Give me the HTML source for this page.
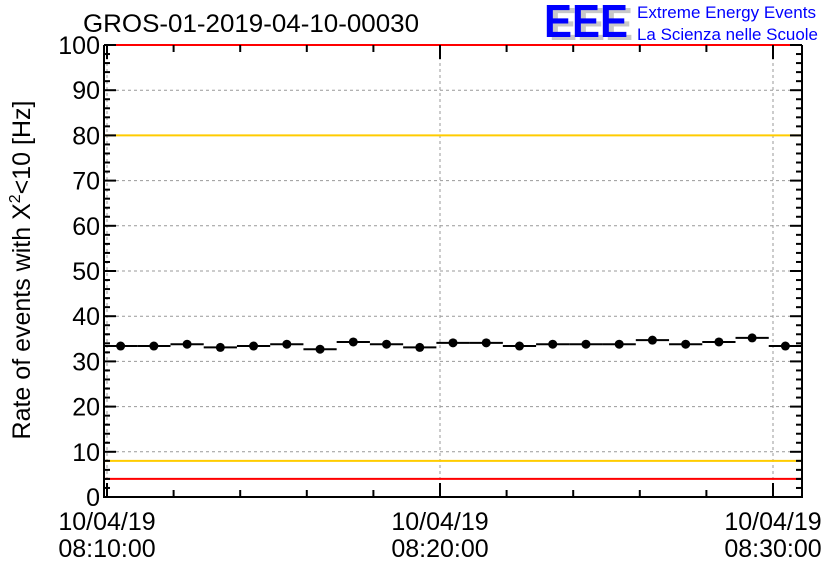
<!DOCTYPE html>
<html><head><meta charset="utf-8">
<style>
body{margin:0;background:#fff;}
svg{display:block;font-family:"Liberation Sans",Arial,sans-serif;}
</style></head>
<body>
<svg id="chart" width="836" height="572" viewBox="0 0 836 572" xmlns="http://www.w3.org/2000/svg">
<rect width="836" height="572" fill="#fff"/>
<text x="83" y="32" font-size="25" fill="#000" textLength="336" lengthAdjust="spacingAndGlyphs">GROS-01-2019-04-10-00030</text>
<g>
<text x="549" y="40" font-size="46" fill="#c8c8c8" font-weight="bold" textLength="84" lengthAdjust="spacingAndGlyphs">EEE</text>
<text x="544" y="37" font-size="46" fill="#0000ff" font-weight="bold" textLength="84" lengthAdjust="spacingAndGlyphs">EEE</text>
<text x="637" y="18" font-size="17" fill="#0000ff" textLength="179" lengthAdjust="spacingAndGlyphs">Extreme Energy Events</text>
<text x="637" y="40" font-size="17" fill="#0000ff" textLength="181" lengthAdjust="spacingAndGlyphs">La Scienza nelle Scuole</text>
</g>
<text transform="translate(30,270) rotate(-90)" text-anchor="middle" font-size="25" fill="#000">Rate of events with X<tspan dy="-10" font-size="16">2</tspan><tspan dy="10">&lt;10 [Hz]</tspan></text>
<g id="grid"></g>
<g id="lines"></g>
<g id="series"></g>
<g id="axes"></g>
</svg>
<script>
const values = [33.4,33.4,33.8,33.1,33.4,33.8,32.7,34.3,33.8,33.1,34.1,34.1,33.4,33.8,33.8,33.8,34.7,33.8,34.3,35.2,33.4];
const yTicks = [0,10,20,30,40,50,60,70,80,90,100];
const xTickMinutes = [0,10,20];
const xTickLabels = [["10/04/19","08:10:00"],["10/04/19","08:20:00"],["10/04/19","08:30:00"]];
const redLevels = [100,4];
const yellowLevels = [80,8];

const L=104,R=802,T=45,B=497;
const X0=107, PXMIN=33.3;
const binStart=104, binW=(R-104)/values.length;
const ys=v=>B-(B-T)*v/100;
const xs=m=>X0+m*PXMIN;
const NS="http://www.w3.org/2000/svg";
function mk(p,tag,a){const e=document.createElementNS(NS,tag);for(const k in a)e.setAttribute(k,a[k]);p.appendChild(e);return e;}
const grid=document.getElementById('grid'),lines=document.getElementById('lines'),ser=document.getElementById('series'),ax=document.getElementById('axes');

yTicks.forEach(v=>{if(v===0||v===100)return;
 const g=mk(grid,'line',{x1:L,x2:R,y1:ys(v),y2:ys(v),stroke:'#999','stroke-dasharray':'3,3','stroke-width':1});
 
 });
xTickMinutes.forEach(m=>{
 const g=mk(grid,'line',{x1:xs(m),x2:xs(m),y1:T,y2:B,stroke:'#999','stroke-dasharray':'3,3','stroke-width':1});
 
 });

redLevels.forEach(v=>{const l=mk(lines,'line',{x1:L,x2:R,y1:ys(v),y2:ys(v),stroke:'#ff0000','stroke-width':2});
 
 });
yellowLevels.forEach(v=>{const l=mk(lines,'line',{x1:L,x2:R,y1:ys(v),y2:ys(v),stroke:'#ffcc00','stroke-width':2});
 
 });

values.forEach((v,i)=>{
 const x1=binStart+i*binW,x2=x1+binW,y=ys(v);
 const s=mk(ser,'line',{x1:x1,x2:x2,y1:y,y2:y,stroke:'#000','stroke-width':2});
 
 
 const c=mk(ser,'circle',{cx:(x1+x2)/2,cy:y,r:4.5,fill:'#000'});
 
 
});

const f=mk(ax,'path',{d:`M${L},${T} V${B} H${R} V${T}`,fill:'none',stroke:'#000','stroke-width':2});


for(let v=0;v<=100;v+=2){const major=v%10===0,len=major?12:6,y=ys(v);
 mk(ax,'line',{x1:L,x2:L+len,y1:y,y2:y,stroke:'#000','stroke-width':2});
 mk(ax,'line',{x1:R,x2:R-len,y1:y,y2:y,stroke:'#000','stroke-width':2});}
yTicks.forEach(v=>{const t=mk(ax,'text',{x:100,y:ys(v)+9,'text-anchor':'end','font-size':25,fill:'#000'});
 t.textContent=v;
 
 });
for(let m=0;xs(m)<R;m+=2){const major=m%10===0,len=major?14:7,x=xs(m);
 mk(ax,'line',{x1:x,x2:x,y1:B,y2:B-len,stroke:'#000','stroke-width':2});
 mk(ax,'line',{x1:x,x2:x,y1:T,y2:T+len,stroke:'#000','stroke-width':2});}
xTickMinutes.forEach((m,i)=>{
 const t=mk(ax,'text',{x:xs(m),y:530,'text-anchor':'middle','font-size':25,fill:'#000'});
 t.textContent=xTickLabels[i][0];
 
 
 const t2=mk(ax,'text',{x:xs(m),y:557,'text-anchor':'middle','font-size':25,fill:'#000'});
 t2.textContent=xTickLabels[i][1];
 
 
});
</script>
</body></html>
